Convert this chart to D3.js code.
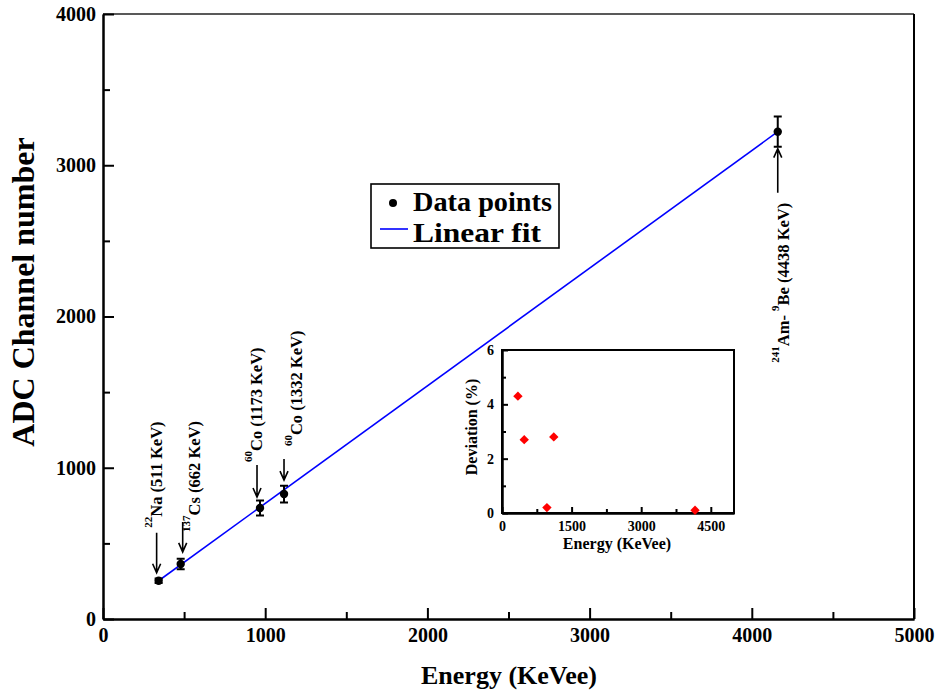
<!DOCTYPE html>
<html>
<head>
<meta charset="utf-8">
<script src="https://cdn.jsdelivr.net/npm/d3@7"></script>
<style>
  body { margin: 0; background: #fff; }
  text { font-family: "Liberation Serif", "Times New Roman", serif; font-weight: bold; fill: #000; }
</style>
</head>
<body>
<svg id="chart" width="938" height="693"></svg>
<script>
// calibration sources, energies (keVee)
const sourceNames = ["22Na", "137Cs", "60Co", "60Co", "241Am-9Be"];
const energies = [343, 479, 968, 1116, 4160];
const channels = [253, 364, 734, 826, 3222];
const channelErr = [15, 35, 50, 55, 100];
const deviations = [4.3, 2.7, 0.2, 2.8, 0.1];
const fitSlope = 0.7778;
const fitIntercept = -13.8;

// label pieces: [text, isSuperscript]
const sourceLabels = [
  [["22", true], ["Na (511 KeV)", false]],
  [["137", true], ["Cs (662 KeV)", false]],
  [["60", true], ["Co (1173 KeV)", false]],
  [["60", true], ["Co (1332 KeV)", false]],
  [["241", true], ["Am- ", false], ["9", true], ["Be (4438 KeV)", false]]
];

const xTicks = [0, 1000, 2000, 3000, 4000, 5000];
const xMinor = [500, 1500, 2500, 3500, 4500];
const yTicks = [0, 1000, 2000, 3000, 4000];
const yMinor = [500, 1500, 2500, 3500];
const insetXTicks = [0, 1500, 3000, 4500];
const insetXMinor = [750, 2250, 3750];
const insetYTicks = [0, 2, 4, 6];
const insetYMinor = [1, 3, 5];

// annotation layout relative to each point (px)
const labelOffset = [[3, -53], [19, -32], [2, -46], [18, -48], [11, 231]];
const arrowSpan = [[-2, -48, -8], [2, -42, -12], [-3, -43, -11], [0, -35, -14], [0, 61, 17]];

const svg = d3.select("#chart");

const x = d3.scaleLinear().domain([0, 5000]).range([103, 914]);
const y = d3.scaleLinear().domain([0, 4000]).range([619, 14]);

// frame top/right
svg.append("line").attr("x1", 103).attr("x2", 914).attr("y1", 14).attr("y2", 14)
  .attr("stroke", "#222").attr("stroke-width", 1.6);
svg.append("line").attr("x1", 914).attr("x2", 914).attr("y1", 14).attr("y2", 619)
  .attr("stroke", "#000").attr("stroke-width", 2);

function styleAxis(g, size) {
  g.select(".domain").attr("stroke-width", 2);
  g.selectAll(".tick line").attr("stroke-width", 2);
  g.selectAll(".tick text").attr("font-size", size).attr("font-family", "Liberation Serif").attr("font-weight", "bold");
}

const gx = svg.append("g").attr("transform", "translate(0,619)");
gx.call(d3.axisBottom(x).tickValues(xMinor).tickSize(-7).tickSizeOuter(0).tickFormat(""));
gx.append("g").call(d3.axisBottom(x).tickValues(xTicks).tickSize(-11).tickSizeOuter(0).tickPadding(9).tickFormat(d3.format("d")))
  .call(g => styleAxis(g, 20));
styleAxis(gx, 20);

const gy = svg.append("g").attr("transform", "translate(103,0)");
gy.call(d3.axisLeft(y).tickValues(yMinor).tickSize(-7).tickSizeOuter(0).tickFormat(""));
gy.append("g").call(d3.axisLeft(y).tickValues(yTicks).tickSize(-11).tickSizeOuter(0).tickPadding(7).tickFormat(d3.format("d")))
  .call(g => styleAxis(g, 20));
styleAxis(gy, 20);

svg.append("text").attr("x", 509).attr("y", 684).attr("text-anchor", "middle")
  .attr("font-size", 26).text("Energy (KeVee)");
svg.append("text").attr("transform", "translate(34,292) rotate(-90)").attr("text-anchor", "middle")
  .attr("font-size", 32).text("ADC Channel number");

// linear fit
const eMin = d3.min(energies), eMax = d3.max(energies);
svg.append("line")
  .attr("x1", x(eMin)).attr("y1", y(fitSlope * eMin + fitIntercept))
  .attr("x2", x(eMax)).attr("y2", y(fitSlope * eMax + fitIntercept))
  .attr("stroke", "#0000ff").attr("stroke-width", 1.6);

// error bars + points
const pts = svg.append("g");
energies.forEach((e, i) => {
  const cx = x(e), lo = y(channels[i] - channelErr[i]), hi = y(channels[i] + channelErr[i]);
  pts.append("path")
    .attr("d", `M${cx},${lo}V${hi}M${cx - 4},${lo}H${cx + 4}M${cx - 4},${hi}H${cx + 4}`)
    .attr("stroke", "#000").attr("stroke-width", 2).attr("fill", "none");
  pts.append("circle").attr("cx", cx).attr("cy", y(channels[i])).attr("r", 4.2).attr("fill", "#000");
});

// arrows and source labels
energies.forEach((e, i) => {
  const px = x(e), py = y(channels[i]);
  const [adx, a0, a1] = arrowSpan[i];
  const ax = px + adx, yTail = py + a0, yTip = py + a1;
  const dir = yTip > yTail ? -1 : 1;
  svg.append("path")
    .attr("d", `M${ax},${yTail}V${yTip}M${ax - 4},${yTip + dir * 9}L${ax},${yTip}L${ax + 4},${yTip + dir * 9}`)
    .attr("stroke", "#000").attr("stroke-width", 1.6).attr("fill", "none");

  const t = svg.append("text")
    .attr("transform", `translate(${px + labelOffset[i][0]},${py + labelOffset[i][1]}) rotate(-90)`)
    .attr("font-size", 16.5);
  let raised = false;
  sourceLabels[i].forEach(([s, sup]) => {
    const sp = t.append("tspan").text(s);
    if (sup && !raised) { sp.attr("dy", -10).attr("font-size", 11); raised = true; }
    else if (!sup && raised) { sp.attr("dy", 10); raised = false; }
  });
});

// legend
const lg = svg.append("g");
lg.append("rect").attr("x", 371).attr("y", 184).attr("width", 188).attr("height", 64)
  .attr("fill", "#fff").attr("stroke", "#000").attr("stroke-width", 1.6);
lg.append("circle").attr("cx", 393).attr("cy", 203).attr("r", 4).attr("fill", "#000");
lg.append("line").attr("x1", 380).attr("x2", 408).attr("y1", 229).attr("y2", 229)
  .attr("stroke", "#0000ff").attr("stroke-width", 1.6);
lg.append("text").attr("x", 413).attr("y", 211).attr("font-size", 27)
  .attr("textLength", 139).attr("lengthAdjust", "spacingAndGlyphs").text("Data points");
lg.append("text").attr("x", 413).attr("y", 242).attr("font-size", 27)
  .attr("textLength", 128).attr("lengthAdjust", "spacingAndGlyphs").text("Linear fit");

// inset: deviation
const xi = d3.scaleLinear().domain([0, 5000]).range([502, 734]);
const yi = d3.scaleLinear().domain([0, 6]).range([513, 350]);
const inset = svg.append("g");
inset.append("rect").attr("x", 502).attr("y", 350).attr("width", 232).attr("height", 163)
  .attr("fill", "#fff").attr("stroke", "#000").attr("stroke-width", 2);

const gxi = inset.append("g").attr("transform", "translate(0,513)");
gxi.call(d3.axisBottom(xi).tickValues(insetXMinor).tickSize(-4).tickSizeOuter(0).tickFormat(""));
gxi.append("g").call(d3.axisBottom(xi).tickValues(insetXTicks).tickSize(-6).tickSizeOuter(0).tickPadding(8).tickFormat(d3.format("d")))
  .call(g => styleAxis(g, 14));
styleAxis(gxi, 14);

const gyi = inset.append("g").attr("transform", "translate(502,0)");
gyi.call(d3.axisLeft(yi).tickValues(insetYMinor).tickSize(-4).tickSizeOuter(0).tickFormat(""));
gyi.append("g").call(d3.axisLeft(yi).tickValues(insetYTicks).tickSize(-6).tickSizeOuter(0).tickPadding(8).tickFormat(d3.format("d")))
  .call(g => styleAxis(g, 14));
styleAxis(gyi, 14);

inset.append("text").attr("x", 617).attr("y", 549).attr("text-anchor", "middle")
  .attr("font-size", 16).text("Energy (KeVee)");
inset.append("text").attr("transform", "translate(477,427) rotate(-90)").attr("text-anchor", "middle")
  .attr("font-size", 16).text("Deviation (%)");

inset.selectAll("path.dev").data(energies).enter().append("path")
  .attr("class", "dev")
  .attr("d", d3.symbol(d3.symbolSquare, 44))
  .attr("transform", (d, i) => `translate(${xi(d)},${yi(deviations[i])}) rotate(45)`)
  .attr("fill", "#ff0000");
</script>
</body>
</html>
